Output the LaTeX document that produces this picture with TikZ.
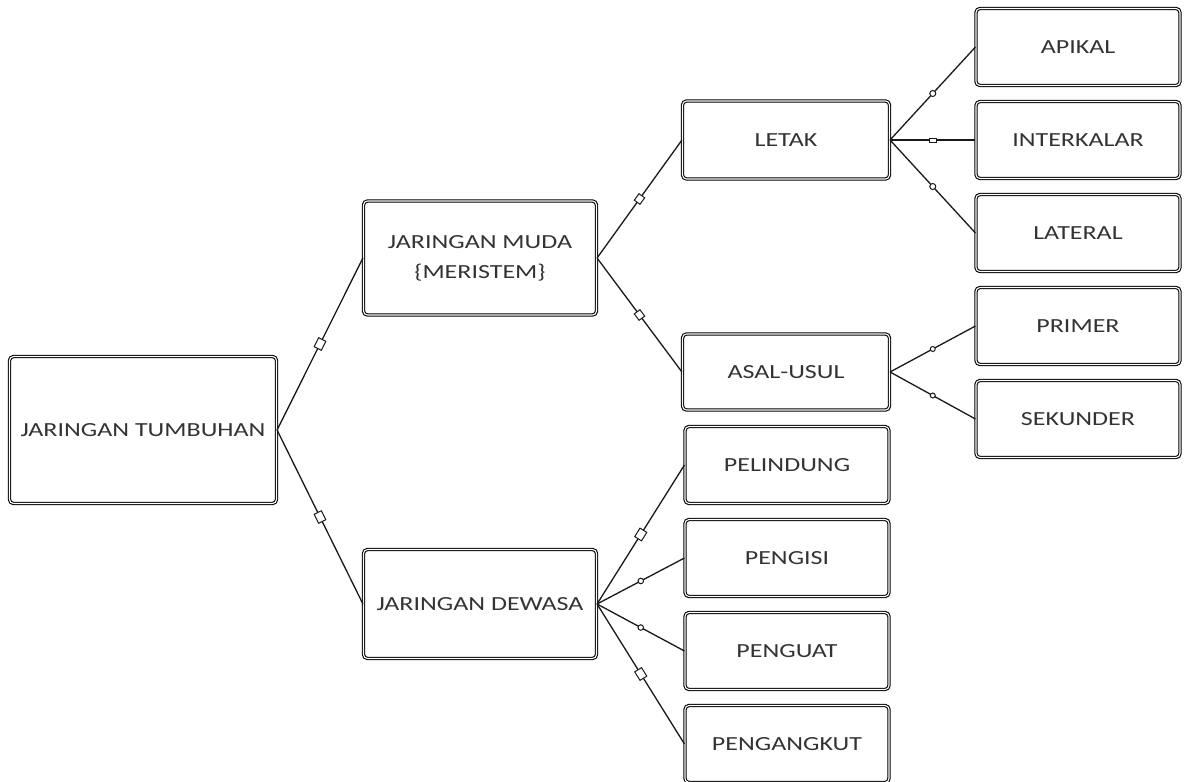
\documentclass[tikz,border=0pt]{standalone}
\usepackage{fontspec}
\setmainfont{Carlito}[FakeStretch=1.3]
\usepackage{tikz}
\usetikzlibrary{positioning}
\tikzstyle{box}=[rectangle, draw=black, double=white, double distance=1.1pt, line width=1.1pt, rounded corners=4pt, text=black!80, align=center, inner sep=2pt, font=\fontsize{20}{30}\selectfont]
\tikzstyle{leaf}=[box, minimum width=204pt, minimum height=77pt]
\tikzstyle{link}=[draw=black!90, line width=1.3pt]
\tikzstyle{tagbox}=[rectangle, draw=black!90, fill=white, line width=1pt, sloped, minimum width=10pt, minimum height=8pt, inner sep=0pt]
\tikzstyle{tagdot}=[circle, draw=black!90, fill=white, line width=1pt, minimum size=6pt, inner sep=0pt]

\begin{document}
\begin{tikzpicture}[x=1pt, y=1pt, node distance=93pt]
    \useasboundingbox (0,0) rectangle (1187,-782);

    % Root.
    \node[box, minimum width=267pt, minimum height=147pt] (tumbuhan) at (143,-430) {JARINGAN TUMBUHAN};

    % Young and mature tissue.
    \node[box, minimum width=233pt, minimum height=114pt] (muda) at (480,-258) {JARINGAN MUDA\\\{MERISTEM\}};
    \node[box, minimum width=233pt, minimum height=109pt] (dewasa) at (480,-604) {JARINGAN DEWASA};

    % Meristem groups.
    \node[box, minimum width=207pt, minimum height=78pt] (letak) at (786,-140) {LETAK};
    \node[box, minimum width=207pt, minimum height=76pt] (asal) at (786,-372) {ASAL-USUL};

    % Mature tissue kinds.
    \node[leaf] (pelindung) at (787,-465) {PELINDUNG};
    \node[leaf] (pengisi) [below of=pelindung] {PENGISI};
    \node[leaf] (penguat) [below of=pengisi] {PENGUAT};
    \node[leaf] (pengangkut) [below of=penguat] {PENGANGKUT};

    % Meristem kinds.
    \node[leaf] (apikal) at (1078,-47) {APIKAL};
    \node[leaf] (interkalar) [below of=apikal] {INTERKALAR};
    \node[leaf] (lateral) [below of=interkalar] {LATERAL};
    \node[leaf] (primer) [below of=lateral] {PRIMER};
    \node[leaf] (sekunder) [below of=primer] {SEKUNDER};

    % Links.
    \draw[link] (tumbuhan.east) -- node[tagbox] {} (muda.west);
    \draw[link] (tumbuhan.east) -- node[tagbox] {} (dewasa.west);
    \draw[link] (muda.east) -- node[tagbox, minimum width=8pt, minimum height=7pt] {} (letak.west);
    \draw[link] (muda.east) -- node[tagbox, minimum width=8pt, minimum height=7pt] {} (asal.west);
    \draw[link] (letak.east) -- node[tagdot] {} (apikal.west);
    \draw[link] (letak.east) -- node[tagbox, minimum width=7pt, minimum height=4pt] {} (interkalar.west);
    \draw[link] (letak.east) -- node[tagdot] {} (lateral.west);
    \draw[link] (asal.east) -- node[tagdot, minimum size=5pt] {} (primer.west);
    \draw[link] (asal.east) -- node[tagdot, minimum size=5pt] {} (sekunder.west);
    \draw[link] (dewasa.east) -- node[tagbox] {} (pelindung.west);
    \draw[link] (dewasa.east) -- node[tagdot, minimum size=5.5pt] {} (pengisi.west);
    \draw[link] (dewasa.east) -- node[tagdot, minimum size=5.5pt] {} (penguat.west);
    \draw[link] (dewasa.east) -- node[tagbox] {} (pengangkut.west);
\end{tikzpicture}
\end{document}
